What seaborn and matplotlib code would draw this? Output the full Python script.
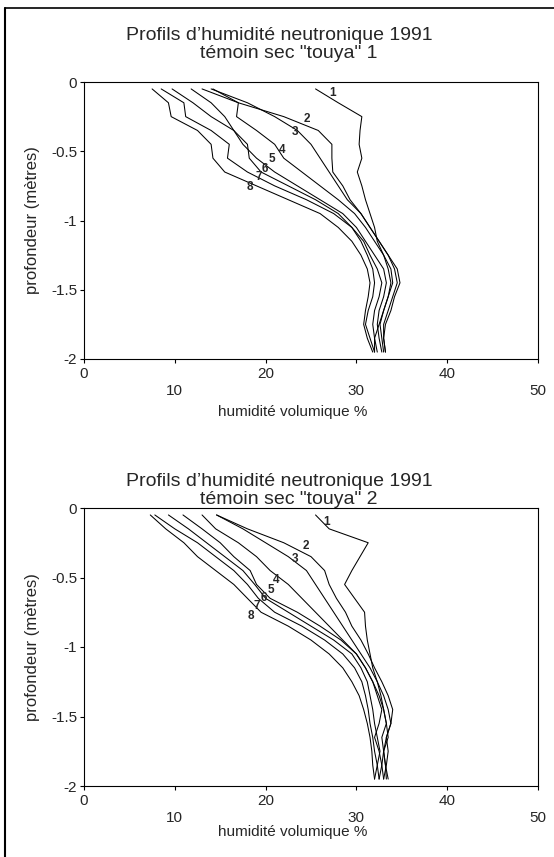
import matplotlib
matplotlib.use("Agg")
import matplotlib.pyplot as plt
import seaborn as sns
import pandas as pd
from matplotlib.lines import Line2D

sns.set_style("white")
plt.rcParams['font.family'] = ['Liberation Sans', 'DejaVu Sans']

depth = [-0.05, -0.15, -0.25, -0.35, -0.45, -0.55, -0.65, -0.75, -0.85, -0.95,
         -1.05, -1.15, -1.25, -1.35, -1.45, -1.55, -1.65, -1.75, -1.85, -1.95]

# chart 1 : "touya" 1
t1_c1 = [25.5, 28.0, 30.6, 30.4, 30.3, 30.6, 30.1, 30.6, 31.0, 31.5, 32.0, 32.3, 33.0, 33.5, 33.8, 33.5, 33.0, 32.5, 32.0, 32.0]
t1_c2 = [13.0, 17.0, 22.0, 25.8, 27.3, 27.3, 27.4, 28.5, 29.3, 30.5, 31.5, 32.5, 33.5, 34.5, 34.8, 34.2, 33.8, 33.2, 33.0, 33.2]
t1_c3 = [14.0, 18.0, 21.0, 23.5, 25.0, 26.0, 27.0, 28.0, 29.0, 30.5, 31.5, 32.5, 33.5, 34.2, 34.5, 34.0, 33.5, 33.0, 33.0, 33.2]
t1_c4 = [14.2, 17.0, 16.8, 19.0, 21.0, 22.0, 24.0, 26.0, 28.0, 29.8, 31.0, 32.0, 33.0, 33.8, 34.0, 33.5, 33.0, 32.6, 32.8, 33.0]
t1_c5 = [11.8, 14.0, 15.5, 16.5, 17.5, 19.0, 21.0, 23.5, 26.0, 28.5, 30.0, 31.0, 32.0, 33.0, 33.3, 33.0, 32.5, 32.3, 32.5, 32.8]
t1_c6 = [9.7, 12.0, 14.0, 16.5, 18.0, 18.2, 19.5, 22.5, 25.5, 28.0, 29.5, 30.8, 31.5, 32.3, 32.8, 32.5, 32.0, 31.8, 32.0, 32.3]
t1_c7 = [8.5, 11.0, 11.2, 14.0, 16.0, 15.8, 18.0, 21.0, 24.5, 27.5, 29.5, 30.5, 31.2, 31.8, 32.0, 31.8, 31.3, 31.0, 31.5, 32.0]
t1_c8 = [7.5, 9.3, 9.6, 12.5, 14.0, 14.2, 15.5, 19.0, 22.5, 26.0, 28.0, 29.5, 30.5, 31.2, 31.5, 31.3, 31.0, 30.8, 31.2, 31.8]

# chart 2 : "touya" 2
t2_c1 = [25.5, 27.0, 31.3, 30.4, 29.5, 28.7, 29.8, 30.9, 31.0, 31.2, 31.5, 31.8, 32.3, 32.7, 33.0, 33.3, 33.5, 33.0, 32.8, 32.5]
t2_c2 = [14.6, 18.0, 22.0, 25.0, 26.5, 27.0, 27.8, 28.8, 29.5, 30.5, 31.3, 32.0, 32.8, 33.5, 34.0, 33.8, 33.3, 33.5, 33.3, 33.0]
t2_c3 = [14.6, 17.5, 20.0, 22.5, 24.5, 25.5, 26.5, 27.5, 28.5, 29.5, 30.5, 31.5, 32.3, 33.0, 33.5, 33.8, 33.3, 33.0, 33.2, 33.5]
t2_c4 = [13.0, 14.5, 17.0, 19.0, 20.5, 22.5, 24.0, 25.5, 27.0, 28.5, 30.0, 31.0, 31.8, 32.5, 33.0, 33.3, 32.8, 33.0, 33.2, 33.3]
t2_c5 = [10.9, 13.0, 15.0, 16.5, 18.3, 19.0, 20.5, 23.5, 26.0, 28.3, 30.0, 31.0, 31.8, 32.3, 32.8, 32.5, 32.0, 32.5, 32.8, 33.0]
t2_c6 = [9.3, 11.5, 13.5, 15.5, 17.5, 18.8, 20.0, 22.5, 25.0, 27.5, 29.5, 30.5, 31.2, 31.5, 31.8, 32.0, 32.3, 32.6, 32.3, 32.0]
t2_c7 = [7.8, 10.0, 12.5, 14.5, 16.5, 18.0, 19.2, 21.0, 24.0, 26.5, 28.5, 29.8, 30.6, 31.0, 31.3, 31.5, 31.8, 32.0, 32.3, 32.5]
t2_c8 = [7.3, 9.0, 11.0, 12.5, 14.5, 16.5, 18.0, 19.5, 22.5, 25.0, 27.0, 28.5, 29.5, 30.3, 30.8, 31.2, 31.5, 31.7, 31.8, 32.0]

curve_names = ["1", "2", "3", "4", "5", "6", "7", "8"]
label_x_1 = [27.4, 24.5, 23.2, 21.8, 20.7, 19.9, 19.2, 18.3]
label_y_1 = [-0.08, -0.27, -0.36, -0.49, -0.555, -0.625, -0.685, -0.76]
label_x_2 = [26.7, 24.4, 23.2, 21.2, 20.6, 19.85, 19.05, 18.4]
label_y_2 = [-0.10, -0.27, -0.37, -0.52, -0.59, -0.645, -0.705, -0.775]

x_ticks = [0, 10, 20, 30, 40, 50]
y_ticks = [0, -0.5, -1, -1.5, -2]
y_tick_labels = ["0", "-0.5", "-1", "-1.5", "-2"]

title_line1 = "Profils d\u2019humidit\u00e9 neutronique 1991"
title_line2 = ["t\u00e9moin sec \"touya\" 1", "t\u00e9moin sec \"touya\" 2"]

charts = [
    ([t1_c1, t1_c2, t1_c3, t1_c4, t1_c5, t1_c6, t1_c7, t1_c8], label_x_1, label_y_1),
    ([t2_c1, t2_c2, t2_c3, t2_c4, t2_c5, t2_c6, t2_c7, t2_c8], label_x_2, label_y_2),
]

W, H = 554, 857
fig = plt.figure(figsize=(W / 100, H / 100), dpi=100)

axes_px = [(84, 82, 538, 359), (84, 508, 538, 786)]   # left, top, right, bottom
title_y1 = [36, 482]
title_y2 = [53, 500]
xlabel_y = [412, 832]

for i, ((curves, lx, ly), (l, t, r, b)) in enumerate(zip(charts, axes_px)):
    ax = fig.add_axes([l / W, 1 - b / H, (r - l) / W, (b - t) / H])
    frames = []
    for name, xs in zip(curve_names, curves):
        frames.append(pd.DataFrame({"hum": xs, "prof": depth, "courbe": name}))
    df = pd.concat(frames, ignore_index=True)
    sns.lineplot(data=df, x="hum", y="prof", hue="courbe", units="courbe",
                 estimator=None, sort=False, palette=["black"] * 8,
                 linewidth=0.75, legend=False, ax=ax)
    for name, x, y in zip(curve_names, lx, ly):
        ax.text(x, y, name, fontsize=8.5, fontweight="bold", ha="center", va="center",
                family=["Liberation Sans Narrow", "Liberation Sans", "DejaVu Sans"])
    ax.set_xlim(0, 50)
    ax.set_ylim(-2, 0)
    ax.set_xticks(x_ticks)
    ax.set_xticklabels([str(v) for v in x_ticks], fontsize=11)
    for k, tk in enumerate(ax.xaxis.get_major_ticks()):
        tk.set_pad(2.5 if k % 2 == 0 else 15.0)
    ax.set_yticks(y_ticks)
    ax.set_yticklabels(y_tick_labels, fontsize=11)
    ax.tick_params(axis="both", direction="out", length=3, width=0.8, color="black",
                   left=True, bottom=True)
    ax.tick_params(axis="y", pad=2)
    ax.set_xlabel("")
    ax.set_ylabel("")
    for sp in ax.spines.values():
        sp.set_color("black")
        sp.set_linewidth(0.8)
    fig.text(33 / W, 1 - ((t + b) / 2) / H, "profondeur (m\u00e8tres)", rotation=90,
             ha="center", va="center", fontsize=12)
    fig.text(279 / W, 1 - title_y1[i] / H, title_line1, ha="center", va="center",
             fontsize=14)
    fig.text(289 / W, 1 - title_y2[i] / H, title_line2[i], ha="center", va="center",
             fontsize=14)
    fig.text(293 / W, 1 - xlabel_y[i] / H, "humidit\u00e9 volumique %", ha="center",
             va="center", fontsize=11)

# scanned page frame (left and top edges)
fig.add_artist(Line2D([5 / W, 5 / W], [0, 1 - 8 / H], transform=fig.transFigure,
                      color="black", linewidth=1.5))
fig.add_artist(Line2D([5 / W, 1], [1 - 8 / H, 1 - 8 / H], transform=fig.transFigure,
                      color="black", linewidth=1.2))

fig.savefig("out.png", dpi=100)
